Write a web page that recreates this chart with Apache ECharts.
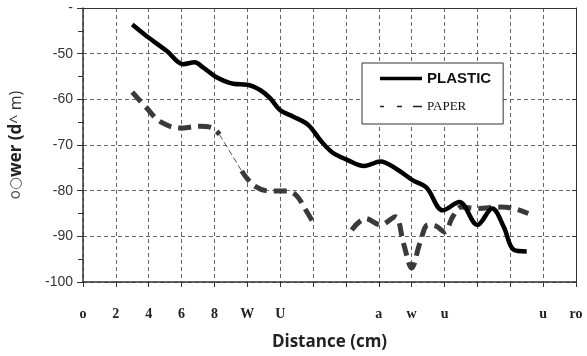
<!DOCTYPE html>
<html><head><meta charset="utf-8">
<script src="https://cdn.jsdelivr.net/npm/echarts@6/dist/echarts.min.js"></script>
<style>html,body{margin:0;padding:0;background:#fff}#c{width:587px;height:356px}</style>
</head><body><div id="c"></div>
<script>
// tick labels as shown in the reference
const xTickLabels = ['o','2','4','6','8','W','U','','','a','w','u','','','u','ro'];
const yTickLabels = {'-40':'-','-50':'-50','-60':'-60','-70':'-70','-80':'-80','-90':'-90','-100':'-100'};
// PLASTIC series
const plasticX = [3,4,5.1,6.1,6.8,7.3,8.1,9.15,10,10.8,11.4,12,12.8,13.7,14.5,15.2,16.05,17.1,18.1,19.1,20.1,20.9,21.9,22.9,24.0,24.9,25.6,26.2,27.0];
const plasticY = [-43.6,-46.5,-49.4,-52.3,-51.9,-53,-55.1,-56.6,-56.8,-58,-59.8,-62.4,-63.8,-65.6,-69.2,-71.7,-73.2,-74.6,-73.6,-75.3,-77.8,-79.3,-84.3,-82.5,-87.5,-83.9,-87.9,-92.9,-93.3];
// PAPER series (null = gap)
const paperX = [3,3.9,4.7,5.9,7.1,7.9,8.3,null,9.66,10.4,11.4,12.4,13.0,13.5,14.1,null,16.35,17.2,18.1,19.0,19.5,20.0,20.5,21.0,21.5,22.0,22.5,23.0,24.0,25.4,26.2,27.1];
const paperY = [-58.4,-62,-64.9,-66.3,-65.9,-66.3,-67.7,null,-75.7,-78.9,-80.1,-80.1,-81.1,-83.9,-87.5,null,-88.6,-86.1,-87.5,-85.7,-91.5,-96.9,-91.5,-87.5,-87.8,-89,-85.7,-83.6,-83.9,-83.6,-83.9,-85];
// thin connector part of PAPER
const paperThinX = [8.3,9.66];
const paperThinY = [-67.7,-75.7];

const paperData = paperX.map((x,i) => x === null ? '-' : [x, paperY[i]]);

const chart = echarts.init(document.getElementById('c'), null, {renderer:'canvas'});
const gridLine = {show:true, lineStyle:{color:'#666', type:[4,3], width:1}};
chart.setOption({
  animation:false,
  backgroundColor:'#fff',
  grid:{left:83, right:11, top:8, bottom:70, containLabel:false},
  legend:{
    orient:'vertical', left:362, top:63, width:143, height:62,
    backgroundColor:'#fff', borderColor:'#333', borderWidth:1,
    padding:[8,12,11,18], itemGap:14, itemWidth:42, itemHeight:14,
    data:[
      {name:'PLASTIC', icon:'path://M0,0 L42,0 L42,3.5 L0,3.5 Z', itemStyle:{color:'#000'},
       textStyle:{fontFamily:'Liberation Sans, Arial', fontWeight:'bold', fontSize:15, color:'#111'}},
      {name:'PAPER', icon:'path://M0,0h4v1.5h-4z M17,0h5v1.5h-5z M33,0h9v1.5h-9z', itemStyle:{color:'#222'},
       textStyle:{fontFamily:'Liberation Serif, Times New Roman', fontSize:13, color:'#111'}}
    ]
  },
  xAxis:[{
    type:'value', min:0, max:30, interval:2,
    axisLine:{show:true, onZero:false, lineStyle:{color:'#333', width:1.5}},
    axisTick:{show:true, length:5, lineStyle:{color:'#333'}},
    axisLabel:{margin:25, fontFamily:'Liberation Serif, Times New Roman', fontSize:14, fontWeight:'bold', color:'#222',
      formatter:v => xTickLabels[Math.round(v/2)] || ''},
    splitLine:gridLine,
    name:'Distance (cm)', nameLocation:'middle', nameGap:52,
    nameTextStyle:{fontFamily:'Open Sans, Liberation Sans', fontWeight:'bold', fontSize:17, color:'#222'}
  },{
    type:'value', min:0, max:30, position:'top',
    axisLine:{show:true, onZero:false, lineStyle:{color:'#333', width:1}},
    axisTick:{show:false}, axisLabel:{show:false}, splitLine:{show:false}
  }],
  yAxis:[{
    type:'value', min:-100, max:-40, interval:10,
    axisLine:{show:true, onZero:false, lineStyle:{color:'#333', width:1.5}},
    axisTick:{show:true, length:6, lineStyle:{color:'#333'}},
    minorTick:{show:true, splitNumber:2, length:5, lineStyle:{color:'#333'}},
    axisLabel:{margin:10, fontFamily:'Liberation Sans, Arial', fontSize:14, color:'#333',
      formatter:v => yTickLabels[String(v)] || ''},
    splitLine:gridLine,
    name:'{a|o○}{b|wer (d}{c|^ m)}', nameLocation:'middle', nameGap:58, nameRotate:90,
    nameTextStyle:{rich:{
      a:{fontFamily:'DejaVu Sans', fontSize:15, color:'#555'},
      b:{fontFamily:'Open Sans, Liberation Sans', fontSize:17, fontWeight:'bold', color:'#222'},
      c:{fontFamily:'Open Sans, Liberation Sans', fontSize:16, color:'#333'}
    }}
  },{
    type:'value', min:-100, max:-40, interval:10, position:'right',
    axisLine:{show:true, onZero:false, lineStyle:{color:'#333', width:1}},
    axisTick:{show:true, inside:true, length:4, lineStyle:{color:'#333'}},
    axisLabel:{show:false}, splitLine:{show:false}
  }],
  series:[
    {name:'PLASTIC', type:'line', smooth:0.35, symbol:'none', z:5,
     lineStyle:{color:'#000', width:4.5}, itemStyle:{color:'#000'},
     data:plasticX.map((x,i)=>[x, plasticY[i]])},
    {name:'PAPER', type:'line', smooth:0.35, symbol:'none', connectNulls:false, z:4,
     lineStyle:{color:'#3a3a3a', width:5, type:[13,7]}, itemStyle:{color:'#3a3a3a'},
     data:paperData},
    {name:'paperThin', type:'line', smooth:false, symbol:'none', z:3,
     lineStyle:{color:'#555', width:1, type:[6,3]},
     data:paperThinX.map((x,i)=>[x, paperThinY[i]])}
  ]
});
</script></body></html>
